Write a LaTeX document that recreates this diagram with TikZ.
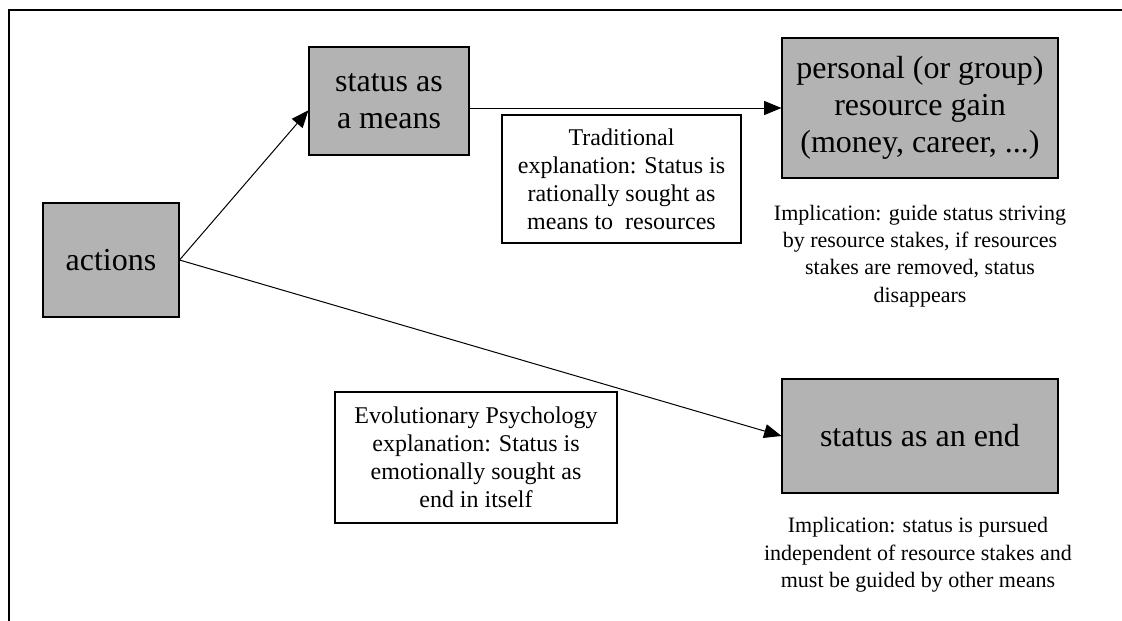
\documentclass[tikz,border=0pt]{standalone}
\usepackage{fontspec}
\setmainfont{Liberation Serif}
\definecolor{boxgray}{RGB}{179, 179, 179}
\usetikzlibrary{arrows.meta}

\begin{document}
\begin{tikzpicture}[x=0.75pt, y=-0.75pt,
    graybox/.style={draw, fill=boxgray, line width=0.8pt, inner sep=0pt, align=center,
                    font=\fontsize{24}{28}\selectfont},
    notebox/.style={draw, fill=white, line width=0.8pt, inner sep=0pt, align=center,
                    font=\fontsize{18}{21}\selectfont},
    implnote/.style={align=center, font=\fontsize{16.5}{20.5}\selectfont},
    flow/.style={-{Triangle[length=13pt, width=10.5pt]}, line width=0.75pt}]
    \useasboundingbox (0,0) rectangle (1122,621);
    % === Frame ===
    \draw[line width=1pt] (9,621) -- (9,10) -- (1122,10);

    % === Boxes ===
    \node[graybox, minimum width=136*0.75pt, minimum height=114*0.75pt] (actions) at (111,260) {actions};
    \node[graybox, minimum width=160*0.75pt, minimum height=108*0.75pt] (means) at (389,101) {status as\\a means};
    \node[graybox, minimum width=276*0.75pt, minimum height=140*0.75pt] (gain) at (920,108)
        {personal (or group)\\resource gain\\(money, career, ...)};
    \node[graybox, minimum width=276*0.75pt, minimum height=114*0.75pt] (endbox) at (920,436) {status as an end};

    % === Explanations ===
    \node[notebox, minimum width=239*0.75pt, minimum height=128*0.75pt] (trad) at (621.5,179)
        {Traditional\\explanation: Status is\\rationally sought as\\means to~ resources};
    \node[notebox, minimum width=282*0.75pt, minimum height=131*0.75pt] (evol) at (476,457.5)
        {Evolutionary Psychology\\explanation: Status is\\emotionally sought as\\end in itself};

    % === Implications ===
    \node[implnote] (implgain) at (920,256)
        {Implication: guide status striving\\by resource stakes, if resources\\stakes are removed, status\\disappears};
    \node[implnote] (implend) at (918,555)
        {Implication: status is pursued\\independent of resource stakes and\\must be guided by other means};

    % === Arrows ===
    \draw[flow] (actions.east) -- ([yshift=-7pt]means.west);
    \draw[flow] (means.east |- gain.west) -- (gain.west);
    \draw[flow] (actions.east) -- (endbox.west);
\end{tikzpicture}
\end{document}
